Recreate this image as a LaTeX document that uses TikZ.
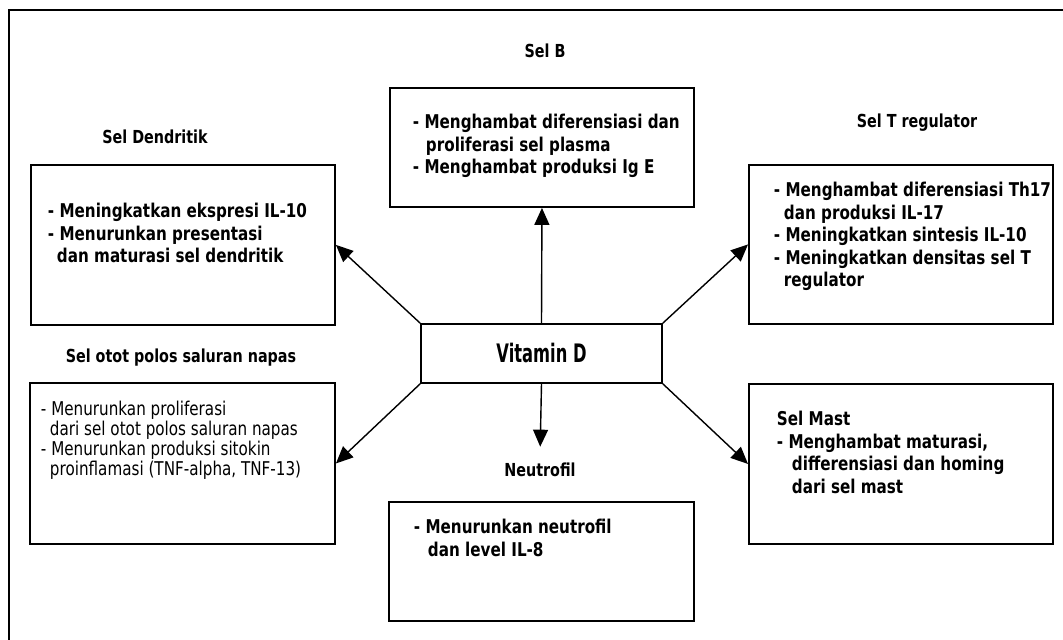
\documentclass[tikz,border=0pt]{standalone}
\usepackage{fontspec}
\setmainfont{DejaVu Sans}[FakeStretch=0.8]
\newfontfamily\vitfont{DejaVu Sans}[FakeStretch=0.64]
\usetikzlibrary{arrows.meta, positioning}

% width, height, left pad, first baseline, lines
\newcommand{\cellbody}[6][0.45cm]{\parbox[c][#3][t]{#2}{\leftskip=#4\relax\baselineskip=#1\relax\rule{0pt}{#5}\ignorespaces#6}}

\tikzset{
  cellbox/.style={draw, line width=1.1pt, inner sep=0pt, anchor=north west,
                  font=\bfseries\fontsize{10.8}{12}\selectfont},
  ttl/.style={anchor=base, font=\bfseries\fontsize{10.2}{12}\selectfont},
  vitbox/.style={draw, line width=0.9pt, minimum width=4.82cm, minimum height=1.18cm,
                 font=\vitfont\bfseries\fontsize{14.5}{16}\selectfont},
  arr/.style={line width=0.8pt, -{Triangle[length=0.34cm, width=0.3cm]}}
}

\begin{document}
\begin{tikzpicture}
  \useasboundingbox (0,0) rectangle (21.26,12.8);
  \draw[line width=1.1pt] (0.18,0) |- (21.26,12.6);

  \node[vitbox] (vitd) at (10.83,5.73) {Vitamin D};

  \node[ttl] (tselb) at (10.9,11.64) {Sel B};
  \node[ttl] (tdend) at (3.1,9.92) {Sel Dendritik};
  \node[ttl] (tselt) at (18.34,10.24) {Sel T regulator};
  \node[ttl] (totot) at (3.62,5.54) {Sel otot polos saluran napas};
  \node[ttl] (tneu) at (10.8,3.26) {Neutrofil};

  \node[cellbox] (selb) at (7.78,11.06) {\cellbody{6.08cm}{2.38cm}{0.46cm}{0.82cm}{%
    - Menghambat diferensiasi dan\\
    \hspace*{0.26cm}proliferasi sel plasma\\
    - Menghambat produksi Ig E}};
  \node[cellbox] (dend) at (0.6,9.52) {\cellbody{6.08cm}{3.2cm}{0.34cm}{1.06cm}{%
    - Meningkatkan ekspresi IL-10\\
    - Menurunkan presentasi\\
    \hspace*{0.18cm}dan maturasi sel dendritik}};
  \node[cellbox] (selt) at (14.96,9.52) {\cellbody{6.08cm}{3.18cm}{0.5cm}{0.64cm}{%
    - Menghambat diferensiasi Th17\\
    \hspace*{0.2cm}dan produksi IL-17\\
    - Meningkatkan sintesis IL-10\\
    - Meningkatkan densitas sel T\\
    \hspace*{0.2cm}regulator}};
  \node[cellbox, font=\mdseries\fontsize{10.8}{12}\selectfont] (otot) at (0.58,5.16)
    {\cellbody[0.4cm]{6.1cm}{3.22cm}{0.22cm}{0.66cm}{%
    - Menurunkan proliferasi\\
    \hspace*{0.18cm}dari sel otot polos saluran napas\\
    - Menurunkan produksi sitokin\\
    \hspace*{0.18cm}proinflamasi (TNF-alpha, TNF-13)}};
  \node[cellbox] (mast) at (14.96,5.14) {\cellbody{6.08cm}{3.2cm}{0.56cm}{0.84cm}{%
    Sel Mast\\
    - Menghambat maturasi,\\
    \hspace*{0.3cm}differensiasi dan homing\\
    \hspace*{0.3cm}dari sel mast}};
  \node[cellbox] (neu) at (7.76,2.78) {\cellbody{6.1cm}{2.38cm}{0.5cm}{0.64cm}{%
    - Menurunkan neutrofil\\
    \hspace*{0.28cm}dan level IL-8}};

  \draw[arr] (vitd.north) -- (selb.south);
  \draw[arr] (vitd.north west) -- (dend.east);
  \draw[arr] (vitd.north east) -- (selt.west);
  \draw[arr] (vitd.south west) -- (otot.east);
  \draw[arr] (vitd.south east) -- (mast.west);
  \draw[arr, shorten >=0.21cm] (vitd.south) -- (tneu.north);
\end{tikzpicture}
\end{document}
